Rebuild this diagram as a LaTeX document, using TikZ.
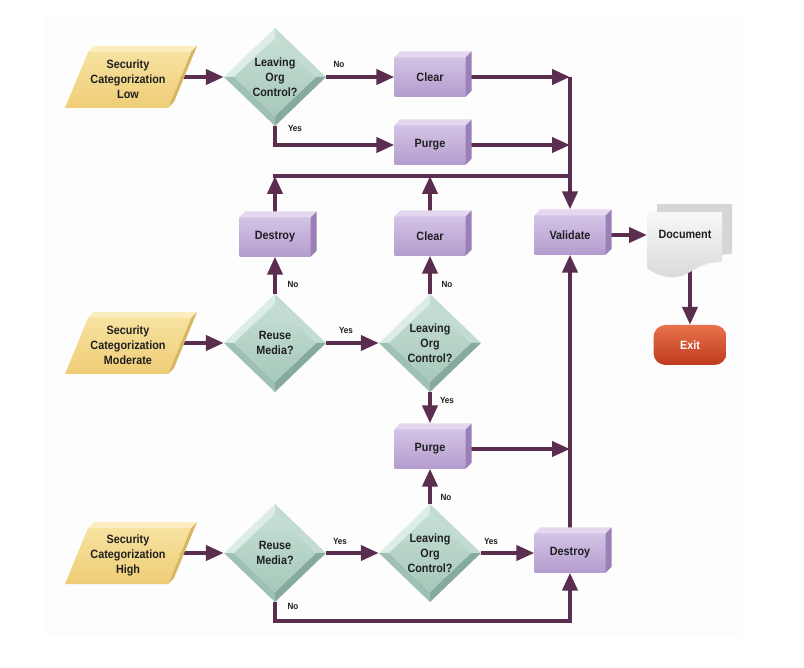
\documentclass[tikz,border=0pt]{standalone}
\usepackage{fontspec}
\usetikzlibrary{arrows.meta,shapes.geometric,calc}
\newfontfamily\lbf{Liberation Sans}[FakeStretch=0.9]
\definecolor{plum}{HTML}{5B2E4F}
\definecolor{boxT}{HTML}{D3C3E6}
\definecolor{boxB}{HTML}{B49DCE}
\definecolor{boxTop}{HTML}{E3D8EF}
\definecolor{boxSide}{HTML}{9A80B6}
\definecolor{paraT}{HTML}{F7E2A0}
\definecolor{paraB}{HTML}{EFCD76}
\definecolor{paraTop}{HTML}{FBEDC0}
\definecolor{paraSide}{HTML}{D8B660}
\definecolor{dNW}{HTML}{DCEDE5}
\definecolor{dNE}{HTML}{C3DCD2}
\definecolor{dSE}{HTML}{86AA9C}
\definecolor{dSW}{HTML}{9FC1B3}
\definecolor{dTop}{HTML}{C6DFD4}
\definecolor{dBot}{HTML}{A6C8BA}
\definecolor{exitT}{HTML}{E8724A}
\definecolor{exitB}{HTML}{BF3A1E}
\definecolor{bgfaint}{HTML}{FDFDFD}
\pgfdeclarelayer{back}
\pgfdeclarelayer{bg}
\pgfsetlayers{back,bg,main}

\newcommand\mybox[4]{%
  \node[pbx] (#1) at (#2,#3) {#4};
  \fill[boxTop] (#1.north west) -- ++(6,-6) -- ([shift={(6,-6)}]#1.north east) -- (#1.north east) -- cycle;
  \fill[boxSide] (#1.north east) -- ++(6,-6) -- ([shift={(6,-6)}]#1.south east) -- (#1.south east) -- cycle;}

\newcommand\mypara[4]{%
  \begin{scope}[shift={(#2,#3)}]
    \fill[paraTop] (-42,-25) -- (-36,-31) -- (67,-31) -- (61,-25) -- cycle;
    \fill[paraSide] (61,-25) -- (67,-31) -- (44,25) -- (38,31) -- cycle;
    \shade[top color=paraT,bottom color=paraB] (-65,31) -- (38,31) -- (61,-25) -- (-42,-25) -- cycle;
    \node[txt] (#1) at (-2,2) {#4};
    \coordinate (#1-e) at (50,0);
  \end{scope}}

\newcommand\mydia[4]{%
  \begin{scope}[shift={(#2,#3)}]
    \fill[dNW] (-51,0) -- (0,-49) -- (0,-39) -- (-41,0) -- cycle;
    \fill[dNE] (0,-49) -- (51,0) -- (41,0) -- (0,-39) -- cycle;
    \fill[dSE] (51,0) -- (0,49) -- (0,39) -- (41,0) -- cycle;
    \fill[dSW] (0,49) -- (-51,0) -- (-41,0) -- (0,39) -- cycle;
    \shade[top color=dTop,bottom color=dBot] (-41,0) -- (0,-39) -- (41,0) -- (0,39) -- cycle;
    \node[txt,shape=diamond,minimum width=102pt,minimum height=98pt,inner sep=0pt] (#1) at (0,0) {#4};
  \end{scope}}

\begin{document}
\begin{tikzpicture}[x=1pt,y=-1pt,
  txt/.style={font=\lbf\bfseries\fontsize{12}{15}\selectfont,align=center,text=black!88},
  lbl/.style={font=\lbf\bfseries\fontsize{9}{10}\selectfont,inner sep=1pt,text=black!88},
  pbx/.style={txt,minimum width=71pt,minimum height=39pt,inner sep=0pt,top color=boxT,bottom color=boxB},
  conn/.style={draw=plum,line width=4pt},
  arr/.style={conn,-{Triangle[length=18pt,width=15pt]}},
  exitst/.style={txt,text=white,rounded corners=12pt,minimum width=73pt,minimum height=40pt,top color=exitT,bottom color=exitB}]
\useasboundingbox (0,0) rectangle (804,668);
\begin{pgfonlayer}{back}
  \fill[bgfaint] (45,15) rectangle (742,636);
\end{pgfonlayer}

% inputs
\mypara{lowin}{130}{77}{Security\\Categorization\\Low}
\mypara{modin}{130}{343}{Security\\Categorization\\Moderate}
\mypara{highin}{130}{553}{Security\\Categorization\\High}

% decisions
\mydia{levA}{275}{77}{Leaving\\Org\\Control?}
\mydia{reuseB}{275}{343}{Reuse\\Media?}
\mydia{levB}{430}{343}{Leaving\\Org\\Control?}
\mydia{reuseC}{275}{553}{Reuse\\Media?}
\mydia{levC}{430}{553}{Leaving\\Org\\Control?}

% process boxes
\mybox{clearA}{430}{77}{Clear}
\mybox{purgeA}{430}{145}{Purge}
\mybox{destroyB}{275}{237}{Destroy}
\mybox{clearB}{430}{236}{Clear}
\mybox{validate}{570}{235}{Validate}
\mybox{purgeC}{430}{449}{Purge}
\mybox{destroyD}{570}{553}{Destroy}

% document
\begin{scope}[shift={(10,-8)}]
  \fill[gray!32] (647,212) -- (722,212) -- (722,262) .. controls (708,262) and (700,266) .. (690,272) .. controls (675,281) and (660,278) .. (647,268) -- cycle;
\end{scope}
\shade[top color=gray!6,bottom color=gray!30] (647,212) -- (722,212) -- (722,262) .. controls (708,262) and (700,266) .. (690,272) .. controls (675,281) and (660,278) .. (647,268) -- cycle;
\node[minimum width=75pt,minimum height=56pt,inner sep=0pt] (doc) at (684.5,240) {};
\node[txt] at (685,234) {Document};
\coordinate (docw) at (647,235);
\coordinate (docb) at (690,268);

% exit
\node[exitst] (exit) at (690,345) {Exit};

% junction coordinates
\coordinate (j1) at (570,77);
\coordinate (j2) at (570,145);
\coordinate (j3) at (570,449);
\coordinate (h1) at (273,176);
\coordinate (h2) at (570,176);
\coordinate (b1) at (570,621);

\begin{pgfonlayer}{bg}
  \draw[arr] (lowin-e) -- (levA.west);
  \draw[arr] (levA.east) -- (clearA.west);
  \draw[arr] (levA.south) |- (purgeA.west);
  \draw[arr] (clearA.east) -- (j1);
  \draw[arr] (purgeA.east) -- (j2);
  \draw[arr] (j1) -- ([yshift=6pt]validate.north);
  \draw[conn] (h1) -- (h2);
  \draw[arr] (destroyB.north) -- (destroyB.north |- h1);
  \draw[arr] (clearB.north) -- (clearB.north |- h1);
  \draw[arr] (reuseB.north) -- (destroyB.south);
  \draw[arr] (levB.north) -- (clearB.south);
  \draw[arr] (modin-e) -- (reuseB.west);
  \draw[arr] (reuseB.east) -- (levB.west);
  \draw[arr] (levB.south) -- ([yshift=6pt]purgeC.north);
  \draw[arr] (purgeC.east) -- (j3);
  \draw[arr] (destroyD.north) -- (validate.south);
  \draw[arr] (validate.east) -- (docw);
  \draw[arr] (docb) -- (exit.north);
  \draw[arr] (highin-e) -- (reuseC.west);
  \draw[arr] (reuseC.east) -- (levC.west);
  \draw[arr] (levC.east) -- (destroyD.west);
  \draw[arr] (levC.north) -- (purgeC.south);
  \draw[arr] (reuseC.south) |- (b1) -- (destroyD.south);
\end{pgfonlayer}

% connector labels
\node[lbl] at (339,64) {No};
\node[lbl] at (295,128) {Yes};
\node[lbl] at (293,284) {No};
\node[lbl] at (447,284) {No};
\node[lbl] at (346,330) {Yes};
\node[lbl] at (447,400) {Yes};
\node[lbl] at (446,497) {No};
\node[lbl] at (340,541) {Yes};
\node[lbl] at (491,541) {Yes};
\node[lbl] at (293,606) {No};
\end{tikzpicture}
\end{document}
